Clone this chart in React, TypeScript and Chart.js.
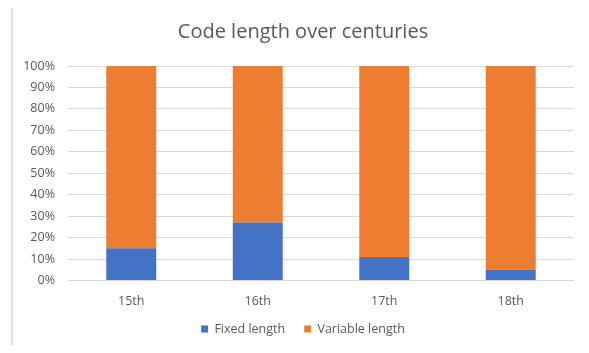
import React, { useEffect, useRef } from "react";
import { Chart, registerables } from "chart.js";

Chart.register(...registerables);

const centuries = ["15th", "16th", "17th", "18th"];
const fixedLength = [15, 27, 11, 5];
const variableLength = [85, 73, 89, 95];
const seriesNames = ["Fixed length", "Variable length"];
const chartTitle = "Code length over centuries";

const FONT = "'Open Sans', 'Noto Sans', sans-serif";
const TEXT = "#595959";
const GRID = "#d9d9d9";

// Give the axis labels room to spill past their boxes without being clipped.
const widenAxes = {
  id: "widenAxes",
  afterLayout(chart: any) {
    const y = chart.scales.y;
    if (y) {
      y.left -= 16;
      y.width += 16;
    }
    const x = chart.scales.x;
    if (x) {
      x.bottom += 12;
      x.height += 12;
    }
  },
};

export default function App() {
  const canvasRef = useRef<HTMLCanvasElement | null>(null);

  useEffect(() => {
    const canvas = canvasRef.current;
    if (!canvas) return;
    const chart = new Chart(canvas, {
      type: "bar",
      data: {
        labels: centuries,
        datasets: [
          {
            label: seriesNames[0],
            data: fixedLength,
            backgroundColor: "#4472C4",
            categoryPercentage: 1,
            barPercentage: 0.395,
          },
          {
            label: seriesNames[1],
            data: variableLength,
            backgroundColor: "#ED7D31",
            categoryPercentage: 1,
            barPercentage: 0.395,
          },
        ],
      },
      options: {
        responsive: false,
        animation: false,
        devicePixelRatio: 1,
        layout: { padding: { top: 20, left: 32, right: 15, bottom: 7.7 } },
        plugins: {
          title: {
            display: true,
            text: chartTitle,
            color: TEXT,
            font: { family: FONT, size: 20, weight: "normal", lineHeight: 1.2 },
            padding: { top: 0, bottom: 22 },
          },
          legend: {
            position: "bottom",
            labels: {
              color: TEXT,
              font: { family: FONT, size: 12.5 },
              boxWidth: 7,
              boxHeight: 7,
              padding: 19,
            },
          },
          tooltip: { enabled: false },
        },
        scales: {
          x: {
            stacked: true,
            grid: { display: false },
            border: { display: false },
            ticks: { color: TEXT, font: { family: FONT, size: 12.5 }, padding: 5 },
            afterFit: (scale: any) => {
              scale.height = 23.3;
            },
          },
          y: {
            stacked: true,
            min: 0,
            max: 100,
            grid: { color: GRID, drawTicks: false, lineWidth: 1 },
            border: { display: false },
            ticks: {
              stepSize: 10,
              color: TEXT,
              font: { family: FONT, size: 12.5 },
              padding: 13,
              callback: (v: any) => v + "%",
            },
            afterFit: (scale: any) => {
              scale.width = 36;
            },
          },
        },
      },
      plugins: [widenAxes],
    });
    return () => chart.destroy();
  }, []);

  return (
    <div style={{ position: "relative", margin: -8, width: 589, height: 353, overflow: "hidden", background: "#fff" }}>
      <div
        style={{
          position: "absolute",
          left: 11,
          top: 6,
          right: -10,
          bottom: -10,
          borderTop: "2px solid #dedede",
          borderLeft: "2px solid #dedede",
        }}
      />
      <canvas ref={canvasRef} width={589} height={353} style={{ position: "absolute", left: 0, top: 0 }} />
    </div>
  );
}
